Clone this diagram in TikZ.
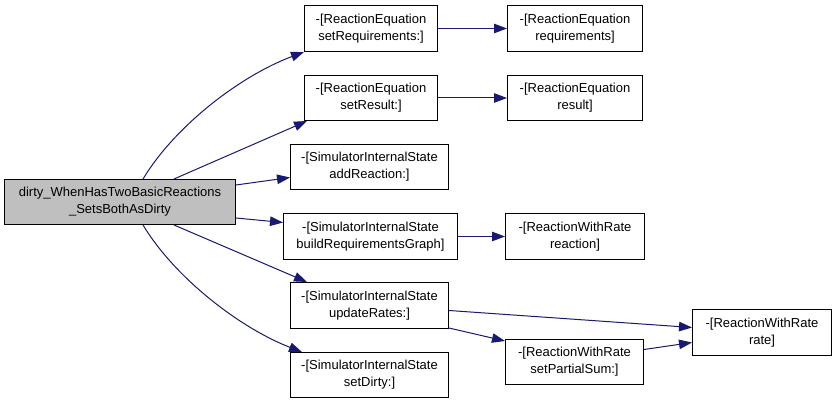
\documentclass[tikz,border=0pt]{standalone}
\usepackage{fontspec}
\setmainfont{Liberation Sans}
\usetikzlibrary{arrows.meta,calc}
\definecolor{edgeblue}{RGB}{25,25,112}
\definecolor{rootgray}{RGB}{191,191,191}
\begin{document}
\begin{tikzpicture}[x=1pt,y=-1pt,
  fn/.style={draw=black,line width=1pt,fill=white,anchor=north west,inner sep=0pt,
    align=center,font=\fontsize{13}{17}\selectfont,minimum height=46pt},
  rootfn/.style={fn,fill=rootgray},
  call/.style={draw=edgeblue,line width=1pt,-{Triangle[length=13pt,width=9.5pt]}}]
\useasboundingbox (0,0) rectangle (835,403);
% caller
\node[rootfn,minimum width=231pt,minimum height=45pt] (root) at (4,179)
  {dirty\_WhenHasTwoBasicReactions\\\_SetsBothAsDirty};
% callees
\node[fn,minimum width=133pt] (A) at (304,5) {-[ReactionEquation\\setRequirements:]};
\node[fn,minimum width=135pt] (B) at (507,5) {-[ReactionEquation\\requirements]};
\node[fn,minimum width=133pt,minimum height=45pt] (C) at (304,75) {-[ReactionEquation\\setResult:]};
\node[fn,minimum width=135pt,minimum height=45pt] (D) at (507,75) {-[ReactionEquation\\result]};
\node[fn,minimum width=158pt,minimum height=45pt] (E) at (290,144) {-[SimulatorInternalState\\addReaction:]};
\node[fn,minimum width=174pt] (F) at (283,213) {-[SimulatorInternalState\\buildRequirementsGraph]};
\node[fn,minimum width=139pt] (G) at (505,213) {-[ReactionWithRate\\reaction]};
\node[fn,minimum width=158pt] (H) at (290,282) {-[SimulatorInternalState\\updateRates:]};
\node[fn,minimum width=139pt] (I) at (692,309) {-[ReactionWithRate\\rate]};
\node[fn,minimum width=138pt,minimum height=45pt] (J) at (505,339) {-[ReactionWithRate\\setPartialSum:]};
\node[fn,minimum width=158pt,minimum height=45pt] (K) at (290,352) {-[SimulatorInternalState\\setDirty:]};
% calls
\draw[call] ($(root.north west)+(139,0)$) .. controls +(32,-53) and +(-64,24) .. (A.south west);
\draw[call] ($(root.north west)+(170,0)$) -- ($(C.south west)+(3,0)$);
\draw[call] ($(root.north east)+(0,6)$) -- ($(E.west)+(0,10.5)$);
\draw[call] ($(root.south east)+(0,-7)$) -- ($(F.west)+(0,-14)$);
\draw[call] ($(root.south west)+(170,0)$) -- ($(H.north west)+(17,0)$);
\draw[call] ($(root.south west)+(139,0)$) .. controls +(32,53) and +(-62,-24) .. ($(K.north west)+(12,0)$);
\draw[call] (A.east) -- (B.west);
\draw[call] (C.east) -- (D.west);
\draw[call] (F.east) -- (G.west);
\draw[call] ($(H.east)+(0,5)$) -- ($(I.west)+(0,-5)$);
\draw[call] ($(H.south east)+(0,-1)$) -- ($(J.north west)+(0,2)$);
\draw[call] ($(J.east)+(0,-12.5)$) -- ($(I.west)+(0,10)$);
\end{tikzpicture}
\end{document}
